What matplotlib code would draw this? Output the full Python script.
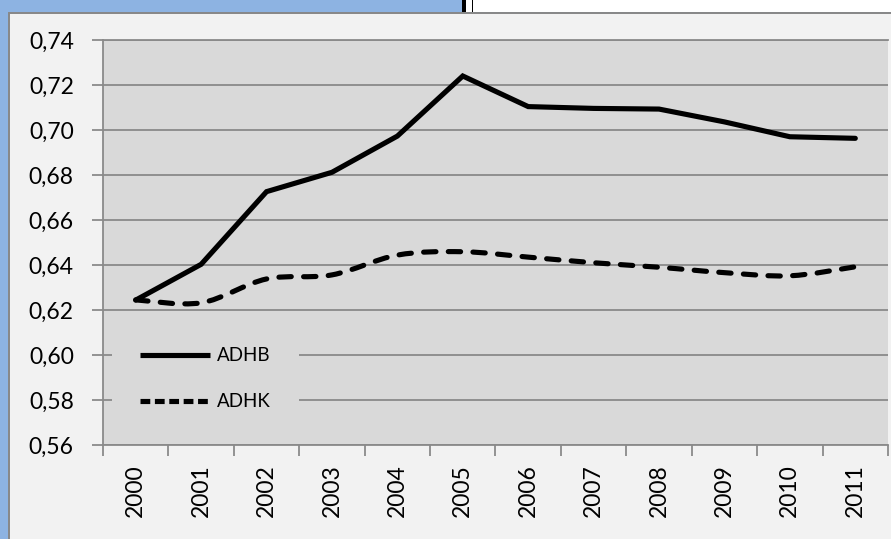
import matplotlib.pyplot as plt
import numpy as np
from matplotlib.patches import Rectangle, PathPatch
from matplotlib.path import Path
from matplotlib.lines import Line2D
from matplotlib.ticker import FuncFormatter, FixedLocator

plt.rcParams['font.family'] = ['Lato', 'DejaVu Sans']

years = ['2000', '2001', '2002', '2003', '2004', '2005',
         '2006', '2007', '2008', '2009', '2010', '2011']
adhb = [0.6244, 0.6403, 0.6726, 0.6812, 0.6973, 0.7240,
        0.7104, 0.7096, 0.7093, 0.7036, 0.6970, 0.6963]
adhk = [0.6245, 0.6232, 0.6338, 0.6356, 0.6444, 0.6459,
        0.6435, 0.6410, 0.6390, 0.6366, 0.6352, 0.6392]
y_ticks = [0.56, 0.58, 0.60, 0.62, 0.64, 0.66, 0.68, 0.70, 0.72, 0.74]

W, H = 891, 539
GRID = '#8a8a8a'


def smooth_path(x, y):
    # catmull-rom curve through the points, as cubic bezier segments
    pts = np.column_stack([x, y])
    verts = [pts[0]]
    codes = [Path.MOVETO]
    n = len(pts)
    for i in range(n - 1):
        p0 = pts[max(i - 1, 0)]
        p1 = pts[i]
        p2 = pts[i + 1]
        p3 = pts[min(i + 2, n - 1)]
        c1 = p1 + (p2 - p0) / 6.0
        c2 = p2 - (p3 - p1) / 6.0
        verts += [c1, c2, p2]
        codes += [Path.CURVE4] * 3
    return Path(verts, codes)


def main():
    fig = plt.figure(figsize=(W / 100, H / 100), dpi=100)
    fig.patch.set_facecolor('#8db3e2')

    # strip at the top right
    fig.patches.append(Rectangle((466 / W, 1 - 12 / H), 1, 12 / H,
                                 transform=fig.transFigure, facecolor='white',
                                 edgecolor='none', zorder=-3))
    fig.patches.append(Rectangle((462 / W, 1 - 12 / H), 4 / W, 12 / H,
                                 transform=fig.transFigure, facecolor='black',
                                 edgecolor='none', zorder=-3))
    fig.patches.append(Rectangle((472 / W, 1 - 12 / H), 1.2 / W, 12 / H,
                                 transform=fig.transFigure, facecolor='black',
                                 edgecolor='none', zorder=-3))

    # chart area
    fig.patches.append(Rectangle((8.5 / W, -0.05), 1.2, 1.05 - 12.5 / H,
                                 transform=fig.transFigure, facecolor='#f2f2f2',
                                 edgecolor='#878787', linewidth=1.4, zorder=-2))

    ax = fig.add_axes([103 / W, (H - 445) / H, 785 / W, 405 / H])
    ax.set_zorder(1)
    ax.set_facecolor('#d9d9d9')
    x = np.arange(len(years))

    ax.plot(x, adhb, color='black', linewidth=3.7, solid_joinstyle='miter',
            solid_capstyle='round', zorder=3)
    ax.add_patch(PathPatch(smooth_path(x, adhk), facecolor='none',
                           edgecolor='black', linewidth=3.7,
                           linestyle=(0, (2.4, 2.4)), capstyle='round',
                           zorder=3))

    ax.set_xlim(-0.5, len(years) - 0.5)
    ax.set_ylim(0.56, 0.74)
    ax.yaxis.set_major_locator(FixedLocator(y_ticks))
    ax.yaxis.set_major_formatter(FuncFormatter(lambda v, p: f'{v:.2f}'.replace('.', ',')))
    ax.grid(axis='y', color=GRID, linewidth=1.3, zorder=1)
    ax.set_axisbelow(True)

    ax.set_xticks(x)
    ax.set_xticklabels(years, rotation=90)
    ax.set_xticks(np.arange(-0.5, len(years)), minor=True)
    ax.tick_params(axis='x', which='major', length=0, pad=14, labelsize=16.5)
    ax.tick_params(axis='x', which='minor', length=8, width=1.3, color=GRID,
                   direction='out')
    ax.tick_params(axis='y', which='major', length=8, width=1.3, color=GRID,
                   pad=13, labelsize=16.5)

    for side in ['right']:
        ax.spines[side].set_visible(False)
    for side in ['left', 'bottom', 'top']:
        ax.spines[side].set_color(GRID)
        ax.spines[side].set_linewidth(1.3)

    handles = [Line2D([], [], color='black', linewidth=3.7, solid_capstyle='butt'),
               Line2D([], [], color='black', linewidth=3.7,
                      linestyle=(0, (1.9, 0.9)), dash_capstyle='butt')]
    leg = ax.legend(handles, ['ADHB', 'ADHK'], loc='upper left',
                    bbox_to_anchor=(9 / 785, 126 / 405), borderaxespad=0,
                    frameon=True, fontsize=13.5, handlelength=3.7,
                    handletextpad=0.4, labelspacing=1.55, borderpad=1.5)
    leg.get_frame().set_facecolor('#d9d9d9')
    leg.get_frame().set_edgecolor('none')
    leg.get_frame().set_alpha(1)
    leg.get_frame().set_boxstyle('square', pad=0)

    fig.savefig('out.png', dpi=100, facecolor=fig.get_facecolor())


main()
